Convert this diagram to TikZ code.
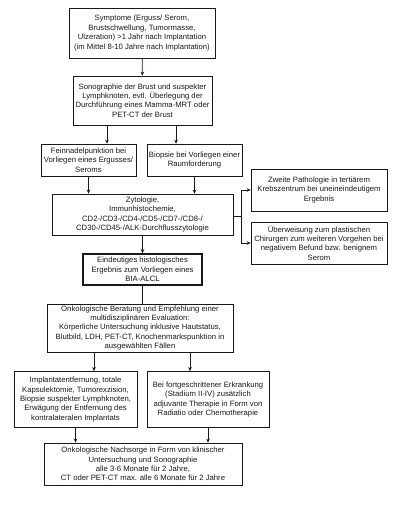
\documentclass[tikz,border=0pt]{standalone}
\usepackage{fontspec}
\setmainfont{Liberation Sans}
\usetikzlibrary{arrows.meta}
\begin{document}
\begin{tikzpicture}[x=1pt,y=-1pt,
  box/.style={draw=black!90, line width=0.7pt, align=center, inner sep=0.5pt,
    font=\fontsize{7.7}{9.4}\selectfont, text=black!90},
  thickbox/.style={box, line width=1.6pt},
  arr/.style={draw=black!90, line width=0.7pt, -{Stealth[length=4pt,width=3.6pt]}},
  ln/.style={draw=black!90, line width=0.7pt}]
\useasboundingbox[fill=white] (0,0) rectangle (400,508);

\node[box, minimum width=146, minimum height=50] (b1) at (142,33)
 {Symptome (Erguss/ Serom,\\ Brustschwellung, Tumormasse,\\ Ulzeration) >1 Jahr nach Implantation\\ (im Mittel 8-10 Jahre nach Implantation)};
\node[box, minimum width=139, minimum height=49] (b2) at (142.5,100.5)
 {Sonographie der Brust und suspekter\\ Lymphknoten, evtl. Überlegung der\\ Durchführung eines Mamma-MRT oder\\ PET-CT der Brust};
\node[box, minimum width=95, minimum height=32] (b3) at (88.5,160)
 {Feinnadelpunktion bei\\ Vorliegen eines Ergusses/\\ Seroms};
\node[box, minimum width=95, minimum height=32] (b4) at (194.5,160)
 {Biopsie bei Vorliegen einer\\ Raumforderung};
\node[box, minimum width=181, minimum height=41] (b5) at (142.5,214.5)
 {Zytologie,\\ Immunhistochemie,\\ CD2-/CD3-/CD4-/CD5-/CD7-/CD8-/\\ CD30-/CD45-/ALK-Durchflusszytologie};
\node[box, minimum width=136, minimum height=42] (b6) at (319,190)
 {Zweite Pathologie in tertiärem\\ Krebszentrum bei uneineindeutigem\\ Ergebnis};
\node[box, minimum width=136, minimum height=42] (b7) at (319,243)
 {Überweisung zum plastischen\\ Chirurgen zum weiteren Vorgehen bei\\ negativem Befund bzw. benignem\\ Serom};
\node[thickbox, minimum width=119, minimum height=31] (b8) at (142.5,269.5)
 {Eindeutiges histologisches\\ Ergebnis zum Vorliegen eines\\ BIA-ALCL};
\node[box, minimum width=186, minimum height=48] (b9) at (140,328)
 {Onkologische Beratung und Empfehlung einer\\ multidisziplinären Evaluation:\\ Körperliche Untersuchung inklusive Hautstatus,\\ Blutbild, LDH, PET-CT, Knochenmarkspunktion in\\ ausgewählten Fällen};
\node[box, minimum width=123, minimum height=56] (b10) at (75.5,399.5)
 {Implantatentfernung, totale\\ Kapsulektomie, Tumorexzision,\\ Biopsie suspekter Lymphknoten,\\ Erwägung der Entfernung des\\ kontralateralen Implantats};
\node[box, minimum width=122, minimum height=56] (b11) at (208,399.5)
 {Bei fortgeschrittener Erkrankung\\ (Stadium II-IV) zusätzlich\\ adjuvante Therapie in Form von\\ Radiatio oder Chemotherapie};
\node[box, minimum width=198, minimum height=42] (b12) at (143,464)
 {Onkologische Nachsorge in Form von klinischer\\ Untersuchung und Sonographie\\ alle 3-6 Monate für 2 Jahre,\\ CT oder PET-CT max. alle 6 Monate für 2 Jahre};

\draw[arr] (b1) -- (b2);
\draw[arr] ([xshift=-35.5]b2.south) -- ([xshift=-35.5]b2.south |- b3.north);
\draw[arr] ([xshift=33.5]b2.south) -- ([xshift=33.5]b2.south |- b4.north);
\draw[arr] (b3.south) -- (b3.south |- b5.north);
\draw[arr] (b4.south) -- (b4.south |- b5.north);
\coordinate (j) at (241,216);
\draw[ln] (b5.east |- j) -- (j);
\draw[arr] (j) |- (b6.west);
\draw[arr] (j) |- (b7.west);
\draw[arr] (b5) -- (b8);
\draw[ln] (b8.south) -- (b8.south |- b9.north);
\draw[arr] ([xshift=-46]b9.south) -- ([xshift=-46]b9.south |- b10.north);
\draw[arr] ([xshift=50]b9.south) -- ([xshift=50]b9.south |- b11.north);
\draw[arr] (b10.south) -- (b10.south |- b12.north);
\draw[arr] (b11.south) -- (b11.south |- b12.north);
\end{tikzpicture}
\end{document}
